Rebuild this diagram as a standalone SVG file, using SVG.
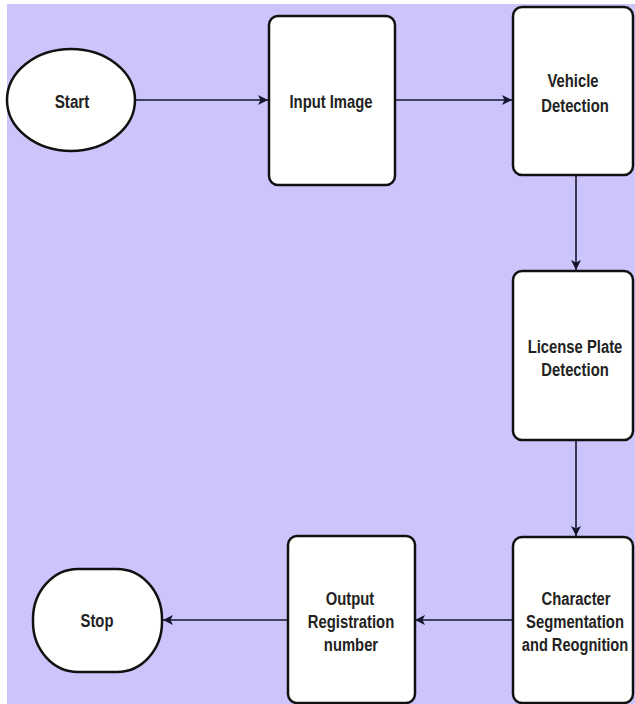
<svg xmlns="http://www.w3.org/2000/svg" width="635" height="704" viewBox="0 0 635 704">
<style>
.box{fill:#fffffd;stroke:#111;stroke-width:2.5}
.lbl{font-family:"Liberation Sans",Arial,sans-serif;font-weight:bold;font-size:19px;fill:#222;text-anchor:middle}
.edge{stroke:#15152e;stroke-width:1.6;fill:none;marker-end:url(#ah)}
</style>
<defs>
<marker id="ah" viewBox="0 0 10 10" refX="10" refY="5" markerWidth="10" markerHeight="10" markerUnits="userSpaceOnUse" orient="auto">
<path d="M0,0 L10,5 L0,10 L2.5,5 Z" fill="#15152e"/>
</marker>
</defs>
<rect x="0" y="0" width="635" height="704" fill="#ffffff"/>
<rect x="7" y="4" width="628" height="700" fill="#ccc5fc"/>
<g id="connectors">
<line class="edge" x1="135" y1="100" x2="268" y2="100"/>
<line class="edge" x1="395" y1="100" x2="512" y2="100"/>
<line class="edge" x1="576" y1="175" x2="576" y2="270"/>
<line class="edge" x1="576" y1="440" x2="576" y2="536"/>
<line class="edge" x1="512" y1="620" x2="415" y2="620"/>
<line class="edge" x1="288" y1="620" x2="163" y2="620"/>
</g>
<g id="start">
<ellipse class="box" cx="71" cy="100" rx="64" ry="51"/>
<text class="lbl" transform="translate(72,108) scale(0.8,1)">Start</text>
</g>
<g id="input">
<rect class="box" x="269" y="16" width="126" height="169" rx="9"/>
<text class="lbl" transform="translate(331,108) scale(0.78,1)">Input Image</text>
</g>
<g id="vehicle">
<rect class="box" x="513" y="7" width="120" height="168" rx="9"/>
<text class="lbl" transform="translate(573,87) scale(0.78,1)">Vehicle</text>
<text class="lbl" transform="translate(575,112) scale(0.78,1)">Detection</text>
</g>
<g id="plate">
<rect class="box" x="513" y="271" width="120" height="169" rx="9"/>
<text class="lbl" transform="translate(575,353) scale(0.78,1)">License Plate</text>
<text class="lbl" transform="translate(575,376) scale(0.78,1)">Detection</text>
</g>
<g id="character">
<rect class="box" x="513" y="537" width="120" height="166" rx="9"/>
<text class="lbl" transform="translate(576,605) scale(0.78,1)">Character</text>
<text class="lbl" transform="translate(575,628) scale(0.78,1)">Segmentation</text>
<text class="lbl" transform="translate(575,651) scale(0.77,1)">and Reognition</text>
</g>
<g id="output">
<rect class="box" x="288" y="536" width="127" height="167" rx="9"/>
<text class="lbl" transform="translate(350,605) scale(0.78,1)">Output</text>
<text class="lbl" transform="translate(351,628) scale(0.78,1)">Registration</text>
<text class="lbl" transform="translate(351,651) scale(0.78,1)">number</text>
</g>
<g id="stop">
<rect class="box" x="33" y="569" width="129" height="103" rx="45" ry="50"/>
<text class="lbl" transform="translate(97,627) scale(0.78,1)">Stop</text>
</g>
</svg>
